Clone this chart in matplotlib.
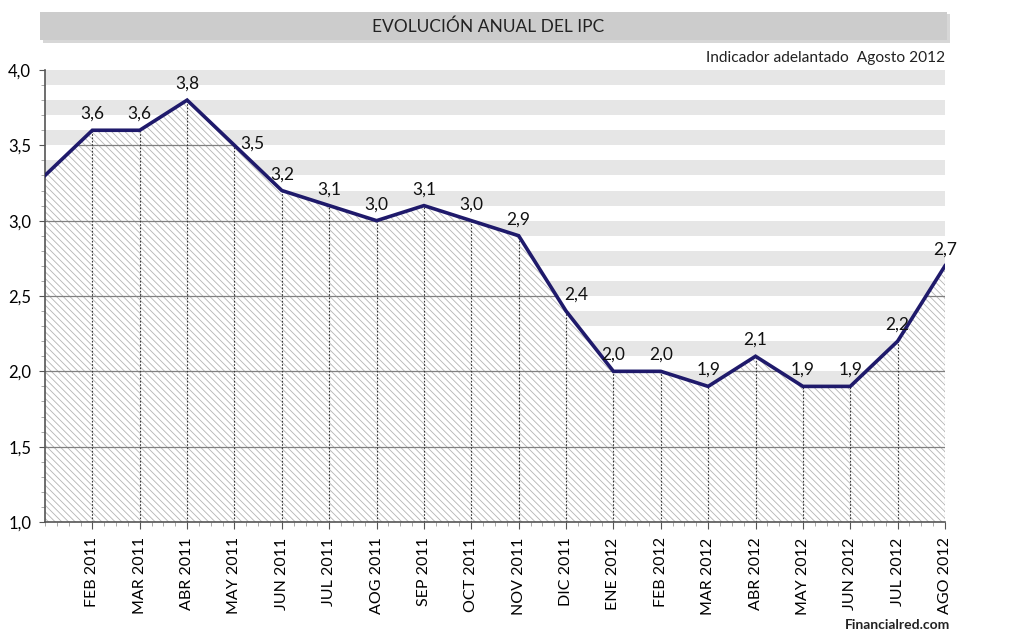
import matplotlib
matplotlib.use("Agg")
import matplotlib.pyplot as plt
from matplotlib.patches import Rectangle
from matplotlib.ticker import MultipleLocator, FuncFormatter

plt.rcParams['font.family'] = ['Lato', 'DejaVu Sans']
plt.rcParams['hatch.color'] = '#b4b4b4'
plt.rcParams['hatch.linewidth'] = 0.6

months = ["ENE 2011", "FEB 2011", "MAR 2011", "ABR 2011", "MAY 2011", "JUN 2011",
          "JUL 2011", "AOG 2011", "SEP 2011", "OCT 2011", "NOV 2011", "DIC 2011",
          "ENE 2012", "FEB 2012", "MAR 2012", "ABR 2012", "MAY 2012", "JUN 2012",
          "JUL 2012", "AGO 2012"]
ipc = [3.3, 3.6, 3.6, 3.8, 3.5, 3.2, 3.1, 3.0, 3.1, 3.0, 2.9, 2.4,
       2.0, 2.0, 1.9, 2.1, 1.9, 1.9, 2.2, 2.7]
x = list(range(len(months)))

fig = plt.figure(figsize=(10.24, 6.33), dpi=100)
ax = fig.add_axes([45/1024, 1-522/633, 900/1024, 452/633])
ax.set_xlim(0, len(months)-1)
ax.set_ylim(1.0, 4.0)

# franjas grises de fondo
for k in range(15):
    lo = 1.1 + 0.2*k
    ax.axhspan(lo, lo+0.1, color='#e6e6e6', lw=0, zorder=0)

fill = ax.fill_between(x, 1.0, ipc, facecolor='white', edgecolor='none',
                       hatch='\\\\\\\\\\', zorder=1, lw=0)

# lineas de rejilla solo dentro del area
clip = fill.get_paths()[0]
for yv in [1.5, 2.0, 2.5, 3.0, 3.5]:
    gl, = ax.plot([0, len(months)-1], [yv, yv], color='#808080', lw=0.9, zorder=2)
    gl.set_clip_path(clip, ax.transData)

ax.vlines(x[1:], 1.0, ipc[1:], colors='#333333', linestyles=(0, (1.5, 1.5)), lw=0.8, zorder=2)

ax.plot(x, ipc, color='#1f1a6b', lw=2.6, zorder=4, solid_joinstyle='miter')

for xi, v in zip(x[1:], ipc[1:]):
    txt = f"{v:.1f}".replace('.', ',')
    if xi == 4:
        ax.annotate(txt, (xi, v), xytext=(4, 1), textcoords='offset points',
                    ha='left', va='center', fontsize=12.5, color='#111111', zorder=5)
    elif xi == 11:
        ax.annotate(txt, (xi, v), xytext=(7, 6), textcoords='offset points',
                    ha='center', va='bottom', fontsize=12.5, color='#111111', zorder=5)
    else:
        ax.annotate(txt, (xi, v), xytext=(0, 6), textcoords='offset points',
                    ha='center', va='bottom', fontsize=12.5, color='#111111', zorder=5)

ax.set_xticks(x[1:])
ax.set_xticklabels(months[1:], rotation=90, fontsize=11.5)
ax.xaxis.set_minor_locator(MultipleLocator(0.25))
ax.yaxis.set_major_locator(MultipleLocator(0.5))
ax.yaxis.set_minor_locator(MultipleLocator(0.1))
ax.yaxis.set_major_formatter(FuncFormatter(lambda v, p: f"{v:.1f}".replace('.', ',')))
ax.tick_params(axis='y', labelsize=12, length=4, color='#555555', pad=6)
ax.tick_params(axis='x', length=5, color='#555555', pad=6)
ax.tick_params(which='minor', length=3, color='#999999')
for s in ['top', 'right']:
    ax.spines[s].set_visible(False)
for s in ['left', 'bottom']:
    ax.spines[s].set_color('#555555')
    ax.spines[s].set_linewidth(1.2)

# cabecera
fig.patches.append(Rectangle((43/1024, 1-43/633), 907/1024, 29/633, transform=fig.transFigure,
                             facecolor='#b0b0b0', edgecolor='none', alpha=0.5, zorder=0))
fig.patches.append(Rectangle((40/1024, 1-40/633), 907/1024, 28/633, transform=fig.transFigure,
                             facecolor='#cccccc', edgecolor='none', zorder=1))
fig.text(488/1024, 1-27/633, "EVOLUCIÓN ANUAL DEL IPC", ha='center', va='center',
         fontsize=12.5, color='#222222')
fig.text(945/1024, 1-58/633, "Indicador adelantado  Agosto 2012", ha='right', va='center',
         fontsize=11.2, color='#222222')
fig.text(950/1024, 1-625/633, "Financialred.com", ha='right', va='center',
         fontsize=10, fontweight='bold', color='#222222')

fig.savefig("out.png", dpi=100)
